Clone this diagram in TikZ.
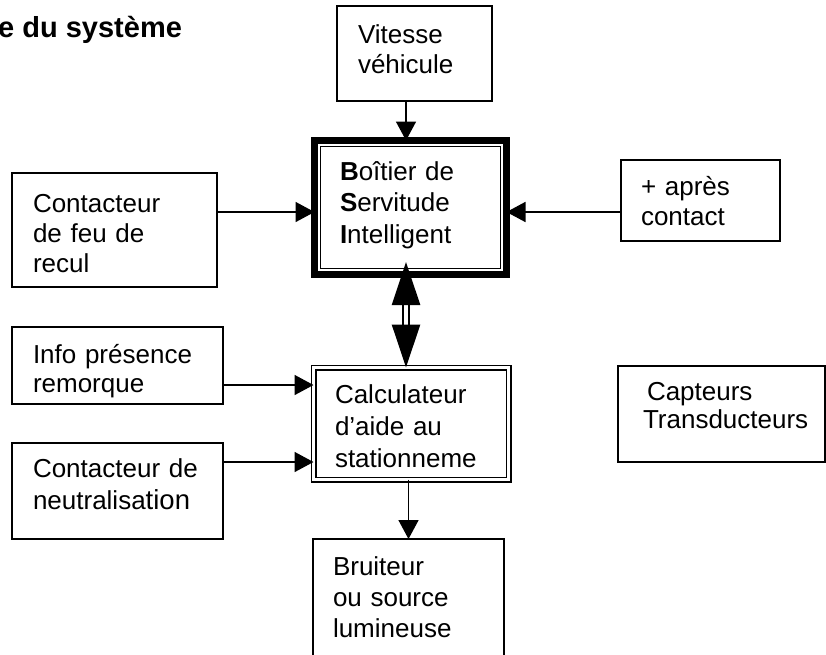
\documentclass[tikz,border=0pt]{standalone}
\usepackage{fontspec}
\setmainfont{Liberation Sans}
\usetikzlibrary{arrows.meta}
\newcommand\boxfont{\fontsize{26}{30}\selectfont}
\newcommand\widefont{\fontsize{26}{32}\selectfont}
\tikzset{
  bloc/.style={draw, line width=1.6pt, anchor=north west, outer sep=0pt,
    inner ysep=0pt, align=left, font=\boxfont},
  fleche/.style={line width=1.6pt, -{Triangle[length=19pt,width=20pt]}},
  liaison/.style={double, double distance=3.5pt, line width=2.5pt,
    {Triangle[length=43pt,width=28pt]}-{Triangle[length=43pt,width=28pt]}}
}
\begin{document}
\begin{tikzpicture}[x=1pt, y=-1pt]
\useasboundingbox (0,0) rectangle (826,654);
% titre (coupe a gauche)
\node[anchor=base west, inner sep=0pt, font=\bfseries\fontsize{29}{34}\selectfont] (titre) at (-2,37) {e du système};
% entrees
\node[bloc, inner xsep=21pt, text width=113pt, text height=37pt, text depth=58pt] (vitesse) at (337,6) {Vitesse\\véhicule};
\node[bloc, inner xsep=21pt, text width=163pt, text height=39pt, text depth=75pt] (recul) at (12,173) {Contacteur\\de feu de\\recul};
\node[bloc, inner xsep=20pt, text width=119pt, text height=35pt, text depth=46pt] (apres) at (621,160) {+ après\\contact};
\node[bloc, font=\fontsize{26}{29}\selectfont, inner xsep=21pt, text width=169pt, text height=36pt, text depth=41pt] (info) at (12,327) {Info présence\\remorque};
\node[bloc, font=\widefont, inner xsep=21pt, text width=169pt, text height=34pt, text depth=62pt] (neut) at (12,443) {Contacteur de\\neutralisa{\fontsize{27.5}{32}\selectfont tion}};
\node[bloc, font=\fontsize{26}{28}\selectfont, inner xsep=25pt, text width=157pt, text height=34pt, text depth=62pt] (capteurs) at (618,366) {\hspace*{4pt}Capteurs\\Transducteurs};
% boitiers
\node[bloc, line width=7pt, font=\fontsize{26}{31.5}\selectfont, inner xsep=25.5pt, text width=141pt, text height=39.5pt, text depth=94.5pt] (bsi) at (314.5,140.5) {\textbf{B}oîtier de\\\textbf{S}ervitude\\\textbf{I}ntelligent};
\draw[line width=1.6pt] ([shift={(6,6)}]bsi.north west) rectangle ([shift={(-6,-6)}]bsi.south east);
\node[bloc, double, double distance=3pt, line width=1.5pt, font=\widefont, inner xsep=21.5pt, text width=152pt, text height=35.5pt, text depth=76.5pt] (calc) at (313.5,367.5) {Calculateur\\d’aide au\\stationneme};
% sortie
\node[bloc, font=\fontsize{26}{31}\selectfont, inner xsep=20pt, text width=151pt, text height=36pt, text depth=120pt] (bruiteur) at (313,539) {Bruiteur\\ou source\\lumineuse};
% liaisons
\coordinate (axe) at ([xshift=-4.5pt]bsi.center);
\coordinate (bsiin) at ([yshift=-4.5pt]bsi.west);
\coordinate (bsibas) at ([yshift=12.5pt]bsi.south);
\coordinate (calcin) at ([yshift=38.5pt]calc.west);
\coordinate (calcneu) at ([yshift=-38.5pt]calc.west);
\draw[fleche] (vitesse.south -| axe) -- (bsi.north -| axe);
\draw[fleche] (recul.east |- bsiin) -- (bsiin);
\draw[fleche] (apres.west |- bsiin) -- (bsi.east |- bsiin);
\draw[liaison] (bsibas -| axe) -- (calc.north -| axe);
\draw[fleche] (info.east |- calcin) -- (calcin);
\draw[fleche] (neut.east |- calcneu) -- (calcneu);
\draw[fleche] (calc.south -| bruiteur.north) -- (bruiteur.north);
\end{tikzpicture}
\end{document}
